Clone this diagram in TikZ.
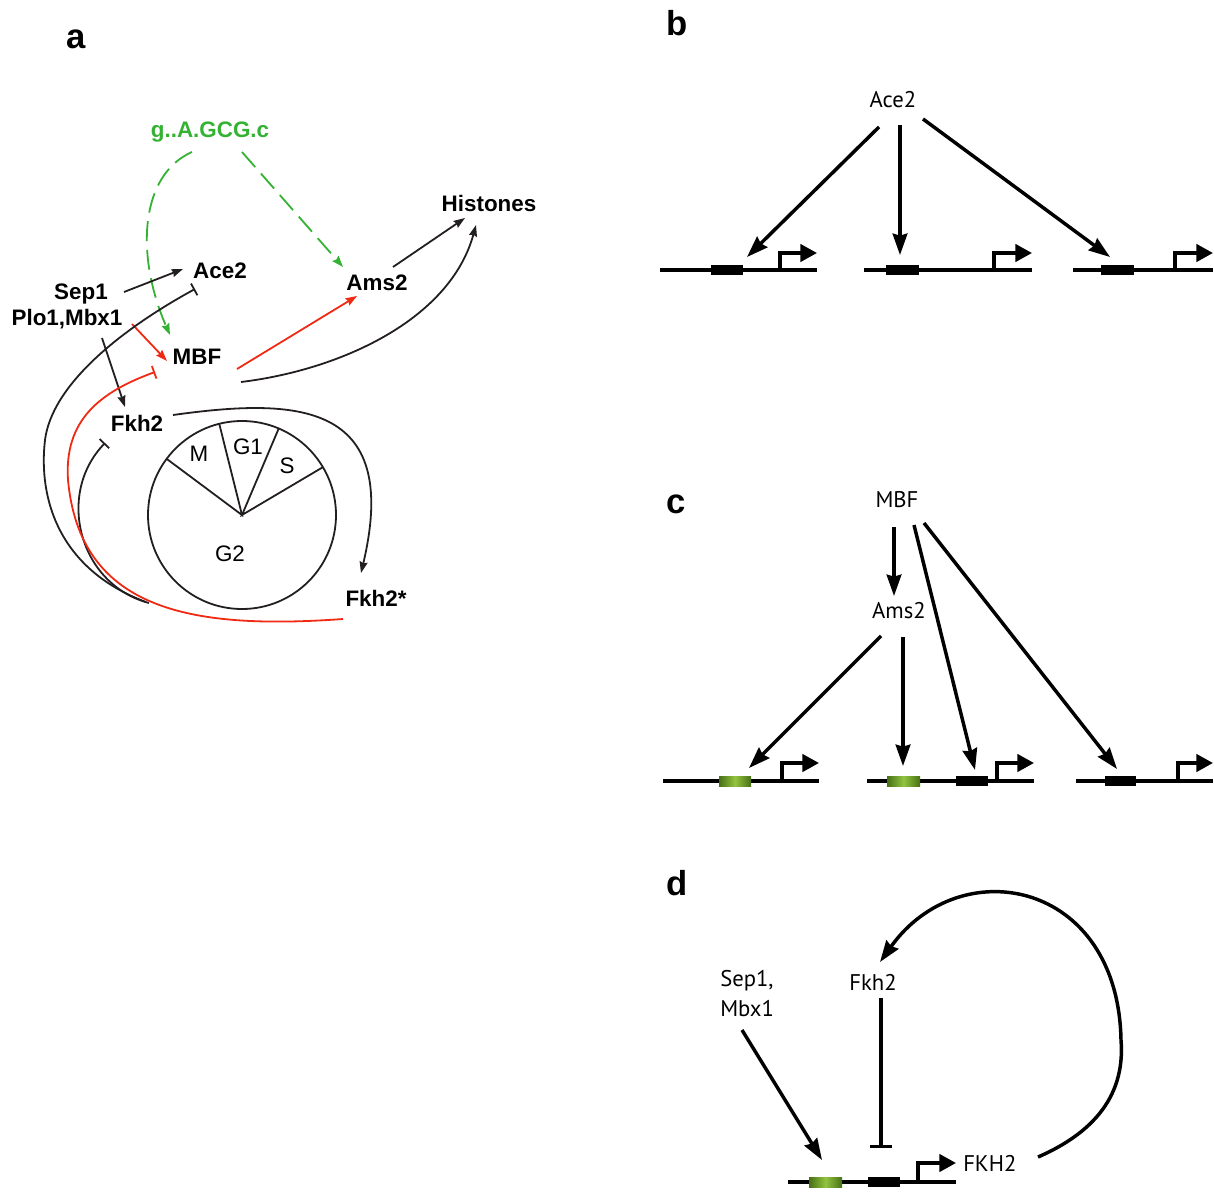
\documentclass[tikz,border=0pt]{standalone}
\usepackage{fontspec}
\setmainfont{Liberation Sans}
\newfontfamily\ptsansfam{PT Sans}
\usetikzlibrary{arrows.meta,calc}
\newcommand\netfont{\fontsize{16.8}{20}\selectfont\bfseries}
\newcommand\cyclefont{\fontsize{16.8}{20}\selectfont}
\newcommand\genefont{\ptsansfam\fontsize{17}{22.5}\selectfont}
\newcommand\letterfont{\fontsize{26}{30}\selectfont\bfseries}
\definecolor{motifgreen}{RGB}{52,178,52}
\definecolor{netred}{RGB}{240,42,18}
\definecolor{netblack}{RGB}{35,31,32}
\definecolor{boxdark}{RGB}{72,112,22}
\definecolor{boxlight}{RGB}{146,196,64}
\tikzset{
  lab/.style={inner sep=0pt, anchor=base},
  netline/.style={line width=1.35pt, color=netblack},
  act/.style={netline, -{Stealth[length=8.5pt,width=6pt,inset=1pt]}},
  inh/.style={netline, -{Bar[width=10pt]}},
  motif/.style={line width=1.35pt, color=motifgreen, dash pattern=on 15pt off 6.5pt,
                -{Stealth[length=8.5pt,width=6pt,inset=1pt,sep=0pt]}},
  bigact/.style={line width=2.6pt, -{Stealth[length=16pt,width=11pt,inset=1.5pt]}},
  biginh/.style={line width=2.6pt, -{Bar[width=17pt]}},
  dna/.style={line width=2.6pt},
  prom/.style={line width=2.6pt, -{Triangle[length=12.5pt,width=13pt]}},
}
\begin{document}
\begin{tikzpicture}[x=0.75pt,y=-0.75pt]
\useasboundingbox (0,0) rectangle (1214,1192);

% ---------- panel letters ----------
\node[lab] (la) at (76,48)  {\letterfont a};
\node[lab] (lb) at (677,35) {\letterfont b};
\node[lab] (lc) at (676,513) {\letterfont c};
\node[lab] (ld) at (677,895) {\letterfont d};

% ---------- panel a: regulatory network ----------
\node[lab, text=motifgreen] (gmotif) at (210,137) {\netfont g..A.GCG.c};
\node[lab] (hist) at (489,211) {\netfont Histones};
\node[lab] (acea) at (220,278) {\netfont Ace2};
\node[lab] (amsa) at (377,290) {\netfont Ams2};
\node[lab] (sepa) at (81,299)  {\netfont Sep1};
\node[lab] (ploa) at (67,325)  {\netfont Plo1,Mbx1};
\node[lab] (mbfa) at (197,364) {\netfont MBF};
\node[lab] (fkha) at (137,431) {\netfont Fkh2};
\node[lab] (fkhs) at (376,606) {\netfont Fkh2*};

% cell cycle wheel
\coordinate (cc) at (242,515);
\draw[netline] (cc) circle[radius=94];
\draw[netline] ($(cc)+(-143.3:94)$) -- (cc) -- ($(cc)+(-104:94)$);
\draw[netline] ($(cc)+(-67:94)$) -- (cc) -- ($(cc)+(-30.6:94)$);
\node[lab] (phM)  at (199,461) {\cyclefont M};
\node[lab] (phG1) at (248,454) {\cyclefont G1};
\node[lab] (phS)  at (287,473) {\cyclefont S};
\node[lab] (phG2) at (230,561) {\cyclefont G2};

% junction points on the lower red curve
\coordinate (joinA) at (146,602);
\coordinate (joinB) at (149,603);

% motif links
\draw[motif] ($(gmotif.base)+(-18,15)$) .. controls (140,175) and (135,255) .. ($(mbfa.base)+(-27,-29)$);
\draw[motif] ($(gmotif.base)+(32,15)$) -- ($(amsa.base)+(-34,-23)$);

% activations and inhibitions
\draw[act] ($(sepa.base)+(43,-7)$) -- ($(acea.base)+(-37,-9)$);
\draw[act] ($(ploa.base)+(35,13)$) -- ($(fkha.base)+(-12,-24)$);
\draw[act, color=netred] ($(ploa.base)+(65,-1)$) -- ($(mbfa.base)+(-30,-3)$);
\draw[act, color=netred] ($(mbfa.base)+(40,5)$) -- ($(amsa.base)+(-20,6)$);
\draw[act] ($(amsa.base)+(16,-23)$) -- ($(hist.base)+(-24,7)$);
\draw[act] ($(mbfa.base)+(44,18)$) .. controls (340,370) and (450,320) .. ($(hist.base)+(-13,14)$);
\draw[act] ($(fkha.base)+(36,-16)$) .. controls (295,398) and (402,400) .. ($(fkhs.base)+(-15,-33)$);

\draw[inh] (joinA) .. controls (60,570) and (38,500) .. (45,440)
                   .. controls (52,385) and (120,330) .. ($(acea.base)+(-25,11)$);
\draw[inh] (joinB) .. controls (80,585) and (55,495) .. ($(fkha.base)+(-32,12)$);
\draw[inh, color=netred] ($(fkhs.base)+(-33,13)$) .. controls (190,630) and (80,610) .. (68,480)
                   .. controls (64,420) and (100,392) .. ($(mbfa.base)+(-42,8)$);

% ---------- panel b: Ace2 targets ----------
\node[lab] (aceb) at (893,107) {\genefont Ace2};
\coordinate (b1) at (747,257);
\coordinate (b2) at (900,255);
\coordinate (b3) at (1110,257);
\draw[bigact] ($(aceb.base)+(-14,20)$) -- (b1);
\draw[bigact] ($(aceb.base)+(7,18)$) -- (b2);
\draw[bigact] ($(aceb.base)+(30,12)$) -- (b3);

\draw[dna] (660,270) -- (817,270);
\fill (711,265) rectangle (743,275);
\draw[prom] (780,270) -- (780,253) -- (817,253);
\draw[dna] (864,270) -- (1032,270);
\fill (886,265) rectangle (919,275);
\draw[prom] (994,270) -- (994,253) -- (1032,253);
\draw[dna] (1073,270) -- (1213,270);
\fill (1101,265) rectangle (1134,275);
\draw[prom] (1175,270) -- (1175,253) -- (1213,253);

% ---------- panel c: MBF and Ams2 targets ----------
\node[lab] (mbfc) at (897,507) {\genefont MBF};
\node[lab] (amsc) at (899,618) {\genefont Ams2};
\coordinate (c1) at (749,768);
\coordinate (c2) at (903,766);
\coordinate (c3) at (975,770);
\coordinate (c4) at (1117,769);
\draw[bigact] ($(mbfc.base)+(-3,20)$) -- ($(amsc.base)+(-5,-22)$);
\draw[bigact] ($(mbfc.base)+(17,18)$) -- (c3);
\draw[bigact] ($(mbfc.base)+(27,16)$) -- (c4);
\draw[bigact] ($(amsc.base)+(-18,18)$) -- (c1);
\draw[bigact] ($(amsc.base)+(4,19)$) -- (c2);

\draw[dna] (663,781) -- (819,781);
\shade[left color=boxdark, right color=boxdark, middle color=boxlight] (719,776) rectangle (751,786);
\draw[prom] (782,781) -- (782,763) -- (819,763);
\draw[dna] (867,781) -- (1034,781);
\shade[left color=boxdark, right color=boxdark, middle color=boxlight] (887,776) rectangle (920,786);
\fill (956,776) rectangle (988,786);
\draw[prom] (997,781) -- (997,763) -- (1034,763);
\draw[dna] (1076,781) -- (1213,781);
\fill (1105,776) rectangle (1136,786);
\draw[prom] (1178,781) -- (1178,763) -- (1213,763);

% ---------- panel d: FKH2 feedback ----------
% two-line label: its base anchor sits on the last line
\node[lab, anchor=base west, align=left, font=\genefont] (sepd) at (720,1016) {Sep1,\\Mbx1};
\node[lab] (fkhd) at (873,990) {\genefont Fkh2};
\node[lab, anchor=base west] (fkhg) at (963,1171) {\genefont FKH2};
\coordinate (d1) at (822,1160);
\coordinate (d2) at (881,1148);
\draw[bigact] ($(sepd.base west)+(22,14)$) -- (d1);
\draw[biginh] ($(fkhd.base)+(8,8)$) -- (d2);
\draw[bigact] ($(fkhg.base west)+(75,-14)$) .. controls (1100,1130) and (1125,1090) .. (1121,1040)
              .. controls (1118,880) and (960,850) .. ($(fkhd.base)+(7,-28)$);

\draw[dna] (788,1182) -- (956,1182);
\shade[left color=boxdark, right color=boxdark, middle color=boxlight] (809,1177) rectangle (842,1187);
\fill (868,1177) rectangle (900,1187);
\draw[prom] (918,1182) -- (918,1163) -- (956,1163);
\end{tikzpicture}
\end{document}
